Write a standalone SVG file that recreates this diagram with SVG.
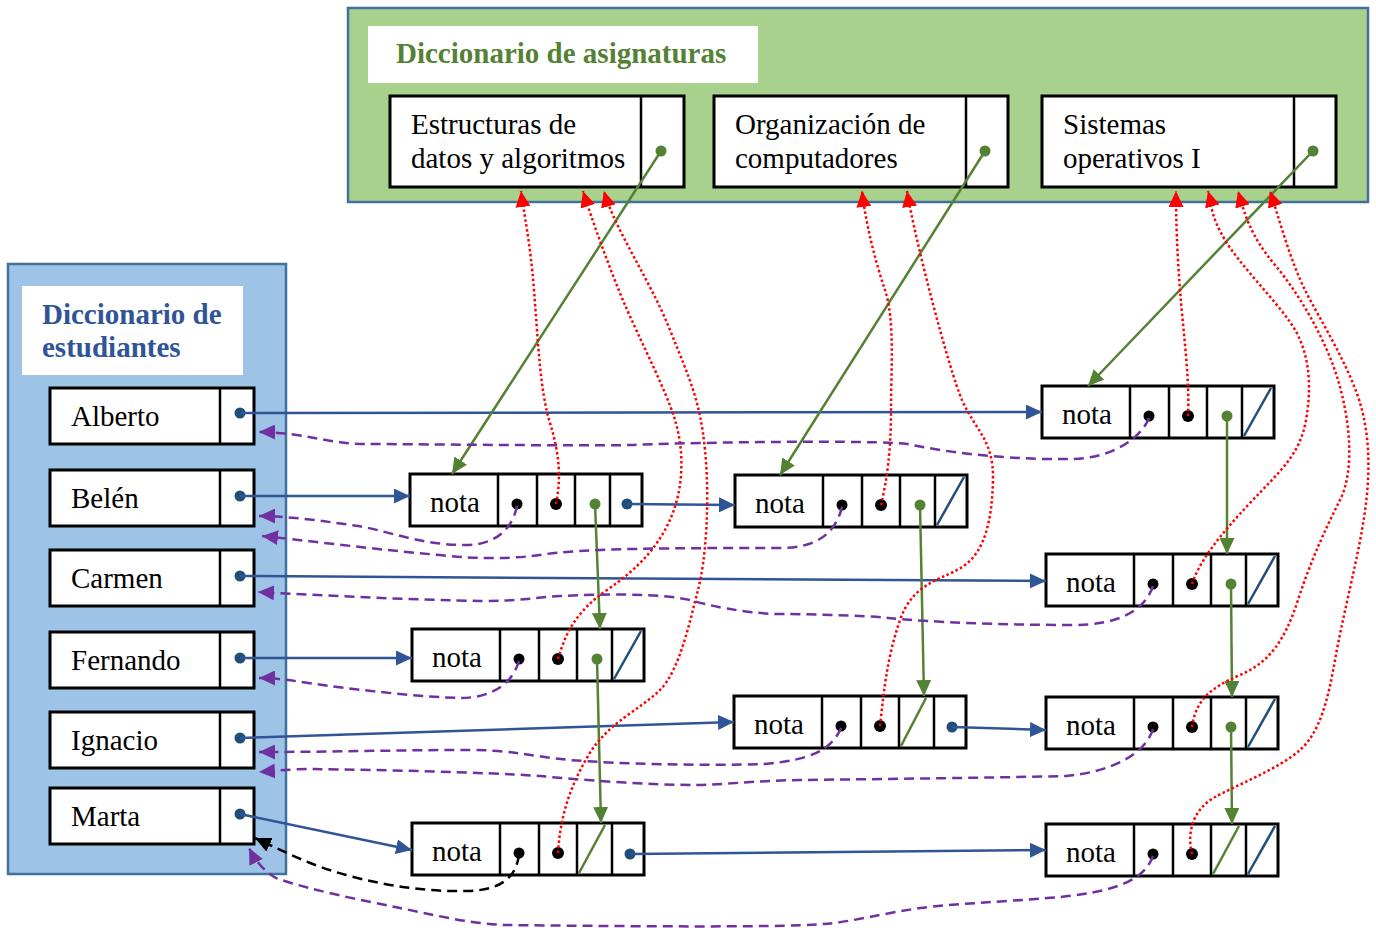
<svg xmlns="http://www.w3.org/2000/svg" width="1376" height="928" viewBox="0 0 1376 928">
<style>
.box{fill:#fff;stroke:#000;stroke-width:3}
.div{stroke:#000;stroke-width:2.5}
.txt{font-family:"Liberation Serif","Times New Roman",serif;font-size:29px;fill:#000}
.nota{font-family:"Liberation Serif","Times New Roman",serif;font-size:29px;fill:#000;text-anchor:middle}
.ttlG{font-family:"Liberation Serif","Times New Roman",serif;font-size:29px;font-weight:bold;fill:#548235}
.ttlB{font-family:"Liberation Serif","Times New Roman",serif;font-size:29px;font-weight:bold;fill:#2f5597}
.blue{fill:none;stroke:#2f5597;stroke-width:2.5;marker-end:url(#aB)}
.green{fill:none;stroke:#548235;stroke-width:2.5;marker-end:url(#aG)}
.red{fill:none;stroke:#ff0000;stroke-width:2.5;stroke-dasharray:2.5 2.5;marker-end:url(#aR)}
.pur{fill:none;stroke:#7030a0;stroke-width:2.5;stroke-dasharray:10 6;marker-end:url(#aP)}
.blk{fill:none;stroke:#000;stroke-width:2.5;stroke-dasharray:10 6;marker-end:url(#aK)}
.bslash{stroke:#1f4e79;stroke-width:2.5}
.gslash{stroke:#548235;stroke-width:2.5}
.dB{fill:#1f4e79}
.dG{fill:#548235}
.dK{fill:#000}
</style>
<defs>
<marker id="aB" markerUnits="userSpaceOnUse" markerWidth="17" markerHeight="15" refX="16" refY="7.5" orient="auto"><path d="M0,0 L16,7.5 L0,15 z" fill="#2f5597"/></marker>
<marker id="aG" markerUnits="userSpaceOnUse" markerWidth="17" markerHeight="15" refX="16" refY="7.5" orient="auto"><path d="M0,0 L16,7.5 L0,15 z" fill="#548235"/></marker>
<marker id="aR" markerUnits="userSpaceOnUse" markerWidth="17" markerHeight="15" refX="16" refY="7.5" orient="auto"><path d="M0,0 L16,7.5 L0,15 z" fill="#ff0000"/></marker>
<marker id="aP" markerUnits="userSpaceOnUse" markerWidth="17" markerHeight="15" refX="16" refY="7.5" orient="auto"><path d="M0,0 L16,7.5 L0,15 z" fill="#7030a0"/></marker>
<marker id="aK" markerUnits="userSpaceOnUse" markerWidth="17" markerHeight="15" refX="16" refY="7.5" orient="auto"><path d="M0,0 L16,7.5 L0,15 z" fill="#000"/></marker>
<g id="notaBase">
<rect class="box" x="0" y="0" width="232" height="52"/>
<line class="div" x1="88" y1="0" x2="88" y2="52"/>
<line class="div" x1="127" y1="0" x2="127" y2="52"/>
<line class="div" x1="165" y1="0" x2="165" y2="52"/>
<line class="div" x1="200" y1="0" x2="200" y2="52"/>
<text class="nota" x="45" y="38">nota</text>
<circle class="dK" cx="107" cy="30" r="5.5"/>
<circle class="dK" cx="146" cy="30" r="6"/>
</g>
</defs>

<g id="dictAsignaturas">
<rect x="348" y="8" width="1020" height="194" fill="#a9d18e" stroke="#41719c" stroke-width="2.5"/>
<rect x="368" y="26" width="390" height="57" fill="#fff"/>
<text class="ttlG" x="396" y="63">Diccionario de asignaturas</text>
</g>
<g id="asig1">
<rect class="box" x="390" y="96" width="294" height="91"/>
<line class="div" x1="641" y1="96" x2="641" y2="187"/>
<text class="txt" x="411" y="134">Estructuras de</text>
<text class="txt" x="411" y="168">datos y algoritmos</text>
<circle class="dG" cx="661" cy="151" r="5.5"/>
</g>
<g id="asig2">
<rect class="box" x="714" y="96" width="294" height="91"/>
<line class="div" x1="966" y1="96" x2="966" y2="187"/>
<text class="txt" x="735" y="134">Organización de</text>
<text class="txt" x="735" y="168">computadores</text>
<circle class="dG" cx="985" cy="151" r="5.5"/>
</g>
<g id="asig3">
<rect class="box" x="1042" y="96" width="294" height="91"/>
<line class="div" x1="1294" y1="96" x2="1294" y2="187"/>
<text class="txt" x="1063" y="134">Sistemas</text>
<text class="txt" x="1063" y="168">operativos I</text>
<circle class="dG" cx="1313" cy="151" r="5.5"/>
</g>

<g id="dictEstudiantes">
<rect x="8" y="264" width="278" height="610" fill="#9dc3e6" stroke="#41719c" stroke-width="2.5"/>
<rect x="22" y="286" width="221" height="89" fill="#fff"/>
<text class="ttlB" x="42" y="324">Diccionario de</text>
<text class="ttlB" x="42" y="357">estudiantes</text>
</g>
<g id="alberto"><rect class="box" x="50" y="388" width="204" height="56"/><line class="div" x1="220" y1="388" x2="220" y2="444"/><text class="txt" x="71" y="426">Alberto</text><circle class="dB" cx="240" cy="413" r="5.5"/></g>
<g id="belen"><rect class="box" x="50" y="470" width="204" height="56"/><line class="div" x1="220" y1="470" x2="220" y2="526"/><text class="txt" x="71" y="508">Belén</text><circle class="dB" cx="240" cy="496" r="5.5"/></g>
<g id="carmen"><rect class="box" x="50" y="550" width="204" height="56"/><line class="div" x1="220" y1="550" x2="220" y2="606"/><text class="txt" x="71" y="588">Carmen</text><circle class="dB" cx="240" cy="576" r="5.5"/></g>
<g id="fernando"><rect class="box" x="50" y="632" width="204" height="56"/><line class="div" x1="220" y1="632" x2="220" y2="688"/><text class="txt" x="71" y="670">Fernando</text><circle class="dB" cx="240" cy="658" r="5.5"/></g>
<g id="ignacio"><rect class="box" x="50" y="712" width="204" height="56"/><line class="div" x1="220" y1="712" x2="220" y2="768"/><text class="txt" x="71" y="750">Ignacio</text><circle class="dB" cx="240" cy="738" r="5.5"/></g>
<g id="marta"><rect class="box" x="50" y="788" width="204" height="56"/><line class="div" x1="220" y1="788" x2="220" y2="844"/><text class="txt" x="71" y="826">Marta</text><circle class="dB" cx="240" cy="814" r="5.5"/></g>

<g id="notaAlberto" transform="translate(1042,386)"><use href="#notaBase"/><circle class="dG" cx="185" cy="30" r="5.5"/><line class="bslash" x1="202" y1="50" x2="229" y2="2"/></g>
<g id="notaBelen1" transform="translate(410,474)"><use href="#notaBase"/><circle class="dG" cx="185" cy="30" r="5.5"/><circle class="dB" cx="217" cy="30" r="5.5"/></g>
<g id="notaBelen2" transform="translate(735,475)"><use href="#notaBase"/><circle class="dG" cx="185" cy="30" r="5.5"/><line class="bslash" x1="202" y1="50" x2="229" y2="2"/></g>
<g id="notaCarmen" transform="translate(1046,554)"><use href="#notaBase"/><circle class="dG" cx="185" cy="30" r="5.5"/><line class="bslash" x1="202" y1="50" x2="229" y2="2"/></g>
<g id="notaFernando" transform="translate(412,629)"><use href="#notaBase"/><circle class="dG" cx="185" cy="30" r="5.5"/><line class="bslash" x1="202" y1="50" x2="229" y2="2"/></g>
<g id="notaIgnacio1" transform="translate(734,696)"><use href="#notaBase"/><line class="gslash" x1="167" y1="50" x2="192" y2="2"/><circle class="dB" cx="218" cy="31" r="5.5"/></g>
<g id="notaIgnacio2" transform="translate(1046,697)"><use href="#notaBase"/><circle class="dG" cx="185" cy="30" r="5.5"/><line class="bslash" x1="202" y1="50" x2="229" y2="2"/></g>
<g id="notaMarta1" transform="translate(412,823)"><use href="#notaBase"/><line class="gslash" x1="167" y1="50" x2="193" y2="2"/><circle class="dB" cx="218" cy="31" r="5.5"/></g>
<g id="notaMarta2" transform="translate(1046,824)"><use href="#notaBase"/><line class="gslash" x1="167" y1="50" x2="193" y2="2"/><line class="bslash" x1="202" y1="50" x2="229" y2="2"/></g>

<g id="connectors">
<line class="blue" x1="240" y1="413" x2="1042" y2="412"/>
<line class="blue" x1="240" y1="496" x2="410" y2="496"/>
<line class="blue" x1="627" y1="504" x2="735" y2="505"/>
<line class="blue" x1="240" y1="576" x2="1046" y2="581"/>
<line class="blue" x1="240" y1="658" x2="412" y2="658"/>
<line class="blue" x1="240" y1="738" x2="734" y2="722"/>
<line class="blue" x1="952" y1="727" x2="1046" y2="730"/>
<line class="blue" x1="240" y1="814" x2="412" y2="850"/>
<line class="blue" x1="630" y1="854" x2="1046" y2="850"/>
<line class="green" x1="661" y1="151" x2="452" y2="474"/>
<line class="green" x1="985" y1="151" x2="780" y2="475"/>
<line class="green" x1="1313" y1="151" x2="1088" y2="386"/>
<line class="green" x1="595" y1="504" x2="600" y2="629"/>
<line class="green" x1="597" y1="659" x2="601" y2="823"/>
<line class="green" x1="920" y1="505" x2="924" y2="696"/>
<line class="green" x1="1227" y1="416" x2="1227" y2="554"/>
<line class="green" x1="1231" y1="584" x2="1232" y2="697"/>
<line class="green" x1="1231" y1="727" x2="1232" y2="824"/>
<path class="red" d="M556,504 C561,480 560,455 550,423 S538,340 534,290 S524,215 521,191"/>
<path class="red" d="M558,659 C565,635 575,612 607,590 S660,545 672,515 S684,450 675,420 S640,340 625,305 S592,220 583,191"/>
<path class="red" d="M558,853 C560,820 568,790 588,756 S640,710 660,690 S690,620 698,590 S710,500 705,450 S690,380 670,330 S615,230 604,191"/>
<path class="red" d="M881,505 C887,480 891,450 891,410 S895,320 885,290 S866,225 862,191"/>
<path class="red" d="M880,726 C883,700 886,660 900,620 S945,580 965,565 S992,520 993,480 S975,430 962,400 S915,240 907,191"/>
<path class="red" d="M1188,416 C1190,380 1183,330 1180,290 S1176,220 1176,191"/>
<path class="red" d="M1192,584 C1200,560 1220,535 1250,503 S1300,455 1306,420 S1310,350 1290,322 S1240,265 1225,240 S1212,205 1208,191"/>
<path class="red" d="M1192,727 C1196,700 1210,688 1240,675 S1285,640 1298,600 S1325,530 1340,500 S1350,420 1338,380 S1300,295 1275,265 S1245,215 1238,191"/>
<path class="red" d="M1192,854 C1186,830 1195,808 1215,797 S1280,768 1300,750 S1328,700 1335,660 S1355,570 1362,530 S1372,450 1362,410 S1320,320 1305,290 S1278,215 1270,191"/>
<path class="pur" d="M1149,418 C1140,440 1110,458 1073,459 C1020,460 960,455 907,444 C880,440 700,442 633,445 C560,446 400,444 365,444 C330,444 300,432 259,432"/>
<path class="pur" d="M517,506 C512,530 495,545 465,545 C420,545 385,530 358,526 C330,522 290,516 259,516"/>
<path class="pur" d="M842,507 C835,535 815,548 780,548 C680,548 580,548 540,555 C520,558 480,560 440,555 C380,550 320,542 262,536"/>
<path class="pur" d="M1153,586 C1145,610 1120,625 1073,625 C1000,625 930,622 888,618 C860,615 800,614 773,614 C740,612 710,606 690,600 C660,593 600,594 560,596 C530,598 520,601 480,601 C420,600 330,596 258,592"/>
<path class="pur" d="M519,661 C512,685 490,698 460,698 C420,697 360,690 330,686 C300,682 280,678 259,678"/>
<path class="pur" d="M841,728 C832,750 810,760 765,764 C700,766 620,764 570,760 C530,756 510,750 470,750 C400,750 330,752 259,752"/>
<path class="pur" d="M1153,729 C1145,755 1110,772 1066,776 C980,778 880,779 800,780 C750,781 720,785 696,785 C650,785 580,780 540,776 C480,772 380,770 314,769 C290,769 275,771 259,772"/>
<path class="pur" d="M1153,856 C1145,878 1120,893 1047,898 C1000,902 950,904 920,908 C880,914 850,922 824,924 C780,928 600,926 505,925 C470,924 430,914 400,908 C360,900 310,890 276,878 C265,872 256,862 249,848"/>
<path class="blk" d="M519,855 C516,875 505,889 470,891 C430,892 390,887 346,875 C310,865 285,852 255,838"/>
</g>
</svg>
